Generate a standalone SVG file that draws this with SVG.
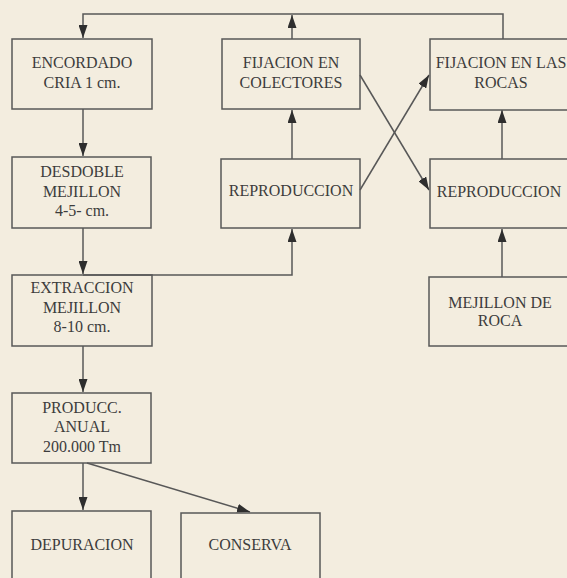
<svg xmlns="http://www.w3.org/2000/svg" width="567" height="578" viewBox="0 0 567 578">
<style>
.box{fill:none;stroke:#585858;stroke-width:1.5}
.lbl{font-family:"Liberation Serif","Times New Roman",serif;font-size:16px;fill:#3c3c3c;text-anchor:middle}
.con{fill:none;stroke:#585858;stroke-width:1.5}
</style>
<defs>
<marker id="ah" markerUnits="userSpaceOnUse" markerWidth="14" markerHeight="9" refX="13" refY="4.5" orient="auto">
<path d="M0,0 L13,4.5 L0,9 z" fill="#2e2e2e"/>
</marker>
</defs>
<rect width="567" height="578" fill="#f3eddf"/>
<g id="connectors">
<path class="con" d="M503,39 V14 H83 V38" marker-end="url(#ah)"/>
<path class="con" d="M292,39 V15" marker-end="url(#ah)"/>
<path class="con" d="M83,109 V156" marker-end="url(#ah)"/>
<path class="con" d="M292,159 V110" marker-end="url(#ah)"/>
<path class="con" d="M360,75 L429,190" marker-end="url(#ah)"/>
<path class="con" d="M360,190 L429,75" marker-end="url(#ah)"/>
<path class="con" d="M502,159 V110" marker-end="url(#ah)"/>
<path class="con" d="M502,277 V229" marker-end="url(#ah)"/>
<path class="con" d="M83,228 V274" marker-end="url(#ah)"/>
<path class="con" d="M83,275 H292 V229" marker-end="url(#ah)"/>
<path class="con" d="M83,346 V392" marker-end="url(#ah)"/>
<path class="con" d="M83,463 V510" marker-end="url(#ah)"/>
<path class="con" d="M87,463 L250,512" marker-end="url(#ah)"/>
</g>
<g id="encordado">
<rect class="box" x="12" y="39" width="140" height="70"/>
<text class="lbl" x="82" y="68">ENCORDADO</text>
<text class="lbl" x="82" y="88">CRIA 1 cm.</text>
</g>
<g id="fijacion-colectores">
<rect class="box" x="222" y="39" width="138" height="70"/>
<text class="lbl" x="291" y="68">FIJACION EN</text>
<text class="lbl" x="291" y="88">COLECTORES</text>
</g>
<g id="fijacion-rocas">
<rect class="box" x="430" y="39" width="140" height="71"/>
<text class="lbl" x="501" y="68">FIJACION EN LAS</text>
<text class="lbl" x="501" y="88">ROCAS</text>
</g>
<g id="desdoble">
<rect class="box" x="12" y="157" width="139" height="71"/>
<text class="lbl" x="82" y="177">DESDOBLE</text>
<text class="lbl" x="82" y="197">MEJILLON</text>
<text class="lbl" x="82" y="216">4-5- cm.</text>
</g>
<g id="reproduccion-1">
<rect class="box" x="221" y="159" width="139" height="69"/>
<text class="lbl" x="291" y="196">REPRODUCCION</text>
</g>
<g id="reproduccion-2">
<rect class="box" x="430" y="159" width="140" height="69"/>
<text class="lbl" x="499" y="197">REPRODUCCION</text>
</g>
<g id="extraccion">
<rect class="box" x="12" y="275" width="140" height="71"/>
<text class="lbl" x="82" y="293">EXTRACCION</text>
<text class="lbl" x="82" y="313">MEJILLON</text>
<text class="lbl" x="82" y="332">8-10 cm.</text>
</g>
<g id="mejillon-roca">
<rect class="box" x="429" y="277" width="141" height="69"/>
<text class="lbl" x="500" y="308">MEJILLON DE</text>
<text class="lbl" x="500" y="326">ROCA</text>
</g>
<g id="produccion">
<rect class="box" x="12" y="393" width="139" height="70"/>
<text class="lbl" x="82" y="413">PRODUCC.</text>
<text class="lbl" x="82" y="432">ANUAL</text>
<text class="lbl" x="82" y="452">200.000 Tm</text>
</g>
<g id="depuracion">
<rect class="box" x="12" y="511" width="139" height="80"/>
<text class="lbl" x="82" y="550">DEPURACION</text>
</g>
<g id="conserva">
<rect class="box" x="181" y="513" width="139" height="80"/>
<text class="lbl" x="250" y="550">CONSERVA</text>
</g>
</svg>
